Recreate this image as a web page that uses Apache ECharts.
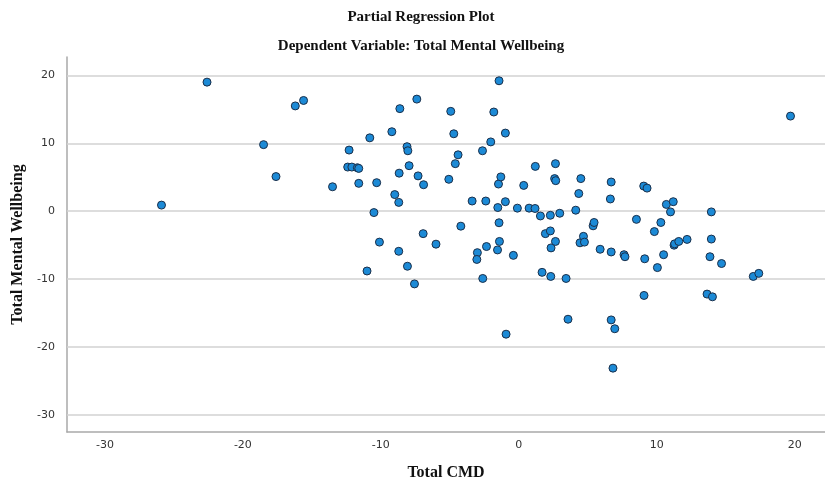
<!DOCTYPE html>
<html>
<head>
<meta charset="utf-8">
<script src="https://cdn.jsdelivr.net/npm/echarts@6/dist/echarts.min.js"></script>
<style>html,body{margin:0;padding:0;background:#fff}#c{width:825px;height:486px}</style>
</head>
<body>
<div id="c"></div>
<script>
const titleText = 'Partial Regression Plot';
const subtitleText = 'Dependent Variable: Total Mental Wellbeing';
const xName = 'Total CMD';
const yName = 'Total Mental Wellbeing';
const xTicks = [-30, -20, -10, 0, 10, 20];
const yTicks = [-30, -20, -10, 0, 10, 20];
const cmdValues = [
  -25.9, -22.6, -18.5, -17.6, -16.2, -15.6, -13.5, -12.3, -12.4, -12.1,
  -11.7, -11.6, -11.6, -11.0, -10.8, -10.5, -10.3, -10.1, -9.2, -8.99,
  -8.7, -8.7, -8.67, -8.62, -8.1, -8.04, -8.07, -7.95, -7.56, -7.39,
  -7.3, -6.93, -6.9, -6.0, -5.07, -4.93, -4.71, -4.6, -4.4, -4.2,
  -3.38, -3.0, -3.04, -2.63, -2.61, -2.39, -2.34, -2.03, -1.81, -1.54,
  -1.52, -1.47, -1.43, -1.43, -1.4, -1.3, -0.97, -0.97, -0.92, -0.39,
  -0.1, 0.36, 0.75, 1.18, 1.2, 1.57, 1.69, 1.93, 2.29, 2.29,
  2.32, 2.34, 2.6, 2.68, 2.66, 2.66, 2.97, 3.43, 3.57, 4.13,
  4.35, 4.5, 4.44, 4.69, 4.76, 5.39, 5.46, 5.9, 6.64, 6.7,
  6.7, 6.7, 6.96, 6.83, 7.63, 7.7, 8.53, 9.06, 9.3, 9.13,
  9.08, 9.83, 10.05, 10.3, 10.5, 10.7, 11.0, 11.2, 11.26, 11.3,
  11.6, 12.2, 13.65, 13.86, 13.96, 13.96, 14.04, 14.7, 17.0, 17.4,
  19.7
];
const wellbeingValues = [
  0.9, 19.0, 9.8, 5.1, 15.5, 16.3, 3.6, 9.0, 6.5, 6.5,
  6.4, 6.3, 4.1, -8.8, 10.8, -0.2, 4.2, -4.55, 11.7, 2.45,
  1.3, -5.9, 5.6, 15.1, 9.5, 8.9, -8.1, 6.7, -10.7, 16.5,
  5.2, -3.3, 3.9, -4.85, 4.7, 14.7, 11.4, 7.0, 8.3, -2.2,
  1.5, -6.1, -7.1, 8.9, -9.9, 1.5, -5.2, 10.2, 14.6, -5.7,
  0.54, 4.0, 19.2, -1.7, -4.45, 5.05, 11.5, 1.4, -18.1, -6.5,
  0.45, 3.8, 0.45, 0.4, 6.6, -0.7, -9.0, -3.3, -0.6, -2.9,
  -9.6, -5.4, 4.8, 4.5, 7.0, -4.45, -0.3, -9.9, -15.9, 0.15,
  2.6, 4.8, -4.65, -3.7, -4.55, -2.15, -1.66, -5.6, 1.8, 4.3,
  -6.0, -16.0, -17.3, -23.1, -6.4, -6.7, -1.2, 3.7, 3.4, -7.0,
  -12.4, -3.0, -8.3, -1.66, -6.4, 1.0, -0.1, 1.4, -5.0, -4.8,
  -4.45, -4.15, -12.2, -6.7, -0.1, -4.1, -12.6, -7.7, -9.6, -9.15,
  14.0
];

const points = cmdValues.map((x, i) => [x, wellbeingValues[i]]);
const labelFont = { color: '#333', fontFamily: 'DejaVu Sans', fontSize: 11 };
const nameFont = { color: '#111', fontFamily: 'Liberation Serif', fontWeight: 'bold', fontSize: 16 };
const axisLineStyle = { color: '#a9a9a9', width: 1.5 };

const chart = echarts.init(document.getElementById('c'), null, { renderer: 'canvas' });
chart.setOption({
  animation: false,
  backgroundColor: '#fff',
  graphic: [
    { type: 'text', x: 421, y: 17, style: { text: titleText, textAlign: 'center', textVerticalAlign: 'middle', font: 'bold 15px "Liberation Serif"', fill: '#111' } },
    { type: 'text', x: 421, y: 46, style: { text: subtitleText, textAlign: 'center', textVerticalAlign: 'middle', font: 'bold 15px "Liberation Serif"', fill: '#111' } }
  ],
  grid: { left: 67, right: 0, top: 57, bottom: 53, containLabel: false },
  xAxis: {
    type: 'value', min: -32.75, max: 22.2,
    name: xName, nameLocation: 'middle', nameGap: 33, nameTextStyle: nameFont,
    axisLine: { show: true, onZero: false, lineStyle: axisLineStyle },
    axisTick: { show: false, customValues: xTicks },
    axisLabel: { customValues: xTicks, margin: 8, ...labelFont },
    splitLine: { show: false }
  },
  yAxis: {
    type: 'value', min: -32.5, max: 22.7,
    name: yName, nameLocation: 'middle', nameGap: 33, nameTextStyle: nameFont,
    axisLine: { show: true, onZero: false, lineStyle: axisLineStyle },
    axisTick: { show: false, customValues: yTicks },
    axisLabel: { customValues: yTicks, margin: 12, ...labelFont },
    splitLine: { show: false }
  },
  series: [
    {
      type: 'scatter', data: [], z: 1, silent: true,
      markLine: {
        silent: true, symbol: ['none', 'none'], z: 1, animation: false,
        label: { show: false },
        lineStyle: { color: '#d2d2d2', width: 1.5, type: 'solid' },
        emphasis: { disabled: true },
        data: yTicks.map(v => ({ yAxis: v }))
      }
    },
    {
      type: 'scatter', data: points, z: 3,
      symbol: 'circle', symbolSize: 8,
      itemStyle: { color: '#1c8ad6', borderColor: '#1a2f4a', borderWidth: 1, opacity: 1 }
    }
  ]
});
</script>
</body>
</html>
